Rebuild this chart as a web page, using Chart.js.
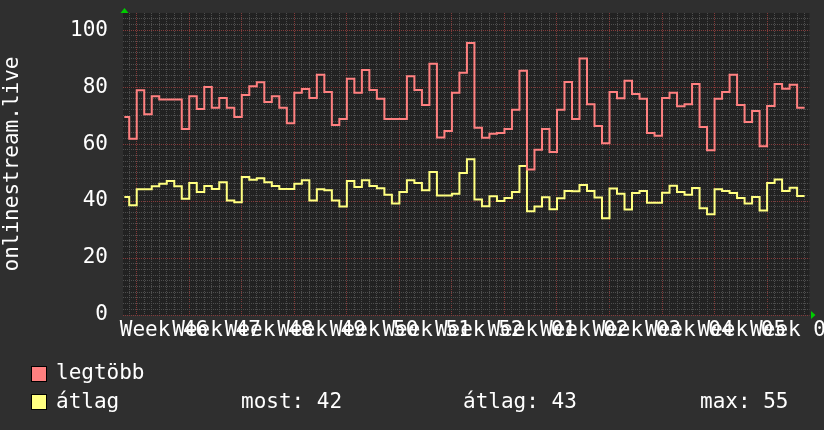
<!DOCTYPE html>
<html>
<head>
<meta charset="utf-8">
<script src="https://cdn.jsdelivr.net/npm/chart.js@4.4.1/dist/chart.umd.min.js"></script>
<style>
  html, body { margin: 0; padding: 0; background: #2f2f2f; }
  #wrap { position: relative; width: 824px; height: 430px; overflow: hidden; }
  #c { position: absolute; left: 0; top: 0; }
  .lg { position: absolute; font: 21px/25px "DejaVu Sans Mono", monospace; color: #ffffff; white-space: pre; }
  .sw { position: absolute; width: 14px; height: 14px; border: 1px solid #000; }
</style>
</head>
<body>
<div id="wrap">
  <canvas id="c" width="824" height="430"></canvas>
  <div class="sw" style="left:31px;top:366px;background:#ff8080"></div>
  <div class="lg" style="left:56px;top:360px">legtöbb</div>
  <div class="sw" style="left:31px;top:394px;background:#ffff80"></div>
  <div class="lg" style="left:56px;top:389px">átlag</div>
  <div class="lg" style="left:241px;top:389px">most: 42</div>
  <div class="lg" style="left:463px;top:389px">átlag: 43</div>
  <div class="lg" style="left:700px;top:389px">max: 55</div>
</div>
<script>
// daily values, one per day (first day is cut by the left edge)
const legtobb = [
  69.5, 61.9, 78.9, 70.5, 76.8, 75.6, 75.6, 75.6, 65.3, 76.8,
  72.3, 80, 72.7, 76.2, 72.7, 69.5, 77.2, 80.3, 81.7, 74.8,
  76.8, 72.7, 67.3, 78, 79.3, 76.2, 84.3, 78.3, 66.7, 68.8,
  82.9, 78, 86, 79, 75.9, 68.8, 68.8, 68.8, 83.8, 79,
  73.7, 88.2, 62.3, 64.6, 78, 85, 95.5, 65.7, 62.2, 63.6,
  63.9, 65.3, 72, 85.7, 51.1, 58, 65.3, 57.2, 72, 81.8,
  68.8, 90, 74, 66.3, 60.3, 78.3, 76.1, 82.2, 77.6, 75.9,
  63.9, 62.9, 76.2, 78, 73.3, 74, 81.1, 66, 57.8, 75.9,
  78.3, 84.3, 73.7, 67.7, 71.6, 59.2, 73.4, 81.1, 79.4, 80.8,
  72.7
];
const atlag = [
  41.4, 38.5, 44.1, 44.1, 45.2, 46.1, 47, 45.2, 40.8, 46.3,
  43.2, 45.3, 44.2, 46.6, 40.2, 39.6, 48.4, 47.5, 48, 46.6,
  45.3, 44.2, 44.2, 46.1, 47.3, 40.2, 44.1, 43.8, 40.2, 38.1,
  47, 44.9, 47.3, 45.3, 44.5, 42.2, 39.1, 43.2, 47.3, 46.3,
  43.8, 50.2, 41.9, 41.9, 42.6, 49.8, 54.7, 40.5, 38.2, 41.7,
  40, 41.1, 43.2, 52.3, 36.4, 38.1, 41.3, 37.1, 41, 43.5,
  43.4, 45.6, 43.5, 41.2, 34, 44.4, 42.6, 37, 42.8, 43.5,
  39.4, 39.4, 42.9, 45.4, 43.2, 42.2, 44.6, 37.5, 35.4, 44.1,
  43.5, 42.8, 41.1, 39.1, 41.4, 36.7, 46.3, 47.6, 43.5, 44.7,
  41.8
];
const weekLabels = ['Week 46', 'Week 47', 'Week 48', 'Week 49', 'Week 50', 'Week 51', 'Week 52',
  'Week 01', 'Week 02', 'Week 03', 'Week 04', 'Week 05', 'Week 06'];
const yLabels = [0, 20, 40, 60, 80, 100];

const FONT = { family: '"DejaVu Sans Mono", monospace', size: 21 };
const firstWeek = 2;     // day index of the first week line
const firstDayStart = 0.35;

function toPoints(vals) {
  const pts = vals.map((v, i) => ({ x: i === 0 ? firstDayStart : i, y: v }));
  pts.push({ x: vals.length, y: vals[vals.length - 1] });
  return pts;
}

const minorGrid = '#4e4e4e';
const majorGrid = '#853a3a';

const plotBg = {
  id: 'plotBg',
  beforeDraw(chart) {
    const { ctx, chartArea: a } = chart;
    ctx.save();
    ctx.fillStyle = '#222222';
    ctx.fillRect(a.left, a.top, a.right - a.left, a.bottom - a.top);
    ctx.restore();
  }
};

const arrows = {
  id: 'arrows',
  afterDraw(chart) {
    const { ctx, chartArea: a } = chart;
    ctx.save();
    ctx.fillStyle = '#00cc00';
    ctx.beginPath();
    ctx.moveTo(a.left + 1.5, a.top - 5);
    ctx.lineTo(a.left - 2.5, a.top);
    ctx.lineTo(a.left + 5.5, a.top);
    ctx.closePath();
    ctx.fill();
    ctx.beginPath();
    ctx.moveTo(a.right + 6, a.bottom);
    ctx.lineTo(a.right + 1.5, a.bottom - 4);
    ctx.lineTo(a.right + 1.5, a.bottom + 4);
    ctx.closePath();
    ctx.fill();
    ctx.restore();
  }
};

new Chart(document.getElementById('c'), {
  type: 'line',
  data: {
    datasets: [
      {
        label: 'legtöbb',
        data: toPoints(legtobb),
        borderColor: '#ff8080',
        borderWidth: 2,
        pointRadius: 0,
        stepped: true,
        fill: false,
        borderJoinStyle: 'miter'
      },
      {
        label: 'átlag',
        data: toPoints(atlag),
        borderColor: '#ffff80',
        borderWidth: 2,
        pointRadius: 0,
        stepped: true,
        fill: false,
        borderJoinStyle: 'miter'
      }
    ]
  },
  options: {
    responsive: false,
    animation: false,
    layout: { padding: { top: 13, right: 14.5, left: 0, bottom: 0 } },
    plugins: { legend: { display: false }, tooltip: { enabled: false } },
    scales: {
      x: {
        type: 'linear',
        min: 0.17,
        max: 91.65,
        afterBuildTicks: (s) => {
          const t = [];
          for (let d = 1; d <= 91; d++) t.push({ value: d });
          weekLabels.forEach((l, i) => t.push({ value: firstWeek + 3.5 + 7 * i }));
          t.sort((a, b) => a.value - b.value);
          s.ticks = t;
        },
        afterFit: (s) => { s.height = 115; s.paddingLeft = 0; s.paddingRight = 0; },
        ticks: {
          autoSkip: false,
          maxRotation: 0,
          minRotation: 0,
          padding: 3,
          labelOffset: 1,
          color: '#ffffff',
          font: FONT,
          callback: (v) => {
            const i = (v - firstWeek - 3.5) / 7;
            return Number.isInteger(i) ? weekLabels[i] : '';
          }
        },
        grid: {
          drawTicks: false,
          color: (ctx) => {
            const v = ctx.tick ? ctx.tick.value : 0;
            if (!Number.isInteger(v)) return 'rgba(0,0,0,0)';
            return (v - firstWeek) % 7 === 0 ? majorGrid : minorGrid;
          }
        },
        border: { display: false, dash: [1, 1] }
      },
      y: {
        min: 0,
        max: 106,
        afterBuildTicks: (s) => {
          const t = [];
          for (let v = 0; v <= 104; v += 2) t.push({ value: v });
          s.ticks = t;
        },
        afterFit: (s) => { s.width = 123; s.paddingTop = 0; s.paddingBottom = 0; },
        ticks: {
          autoSkip: false,
          padding: 15,
          color: '#ffffff',
          font: FONT,
          callback: (v) => yLabels.includes(v) ? String(v) : ''
        },
        grid: {
          drawTicks: false,
          color: (ctx) => {
            const v = ctx.tick ? ctx.tick.value : 0;
            return v % 20 === 0 ? majorGrid : minorGrid;
          }
        },
        border: { display: false, dash: [1, 1] },
        title: {
          display: true,
          text: 'onlinestream.live',
          color: '#ffffff',
          font: FONT,
          padding: 0
        }
      }
    }
  },
  plugins: [plotBg, arrows]
});
</script>
</body>
</html>
